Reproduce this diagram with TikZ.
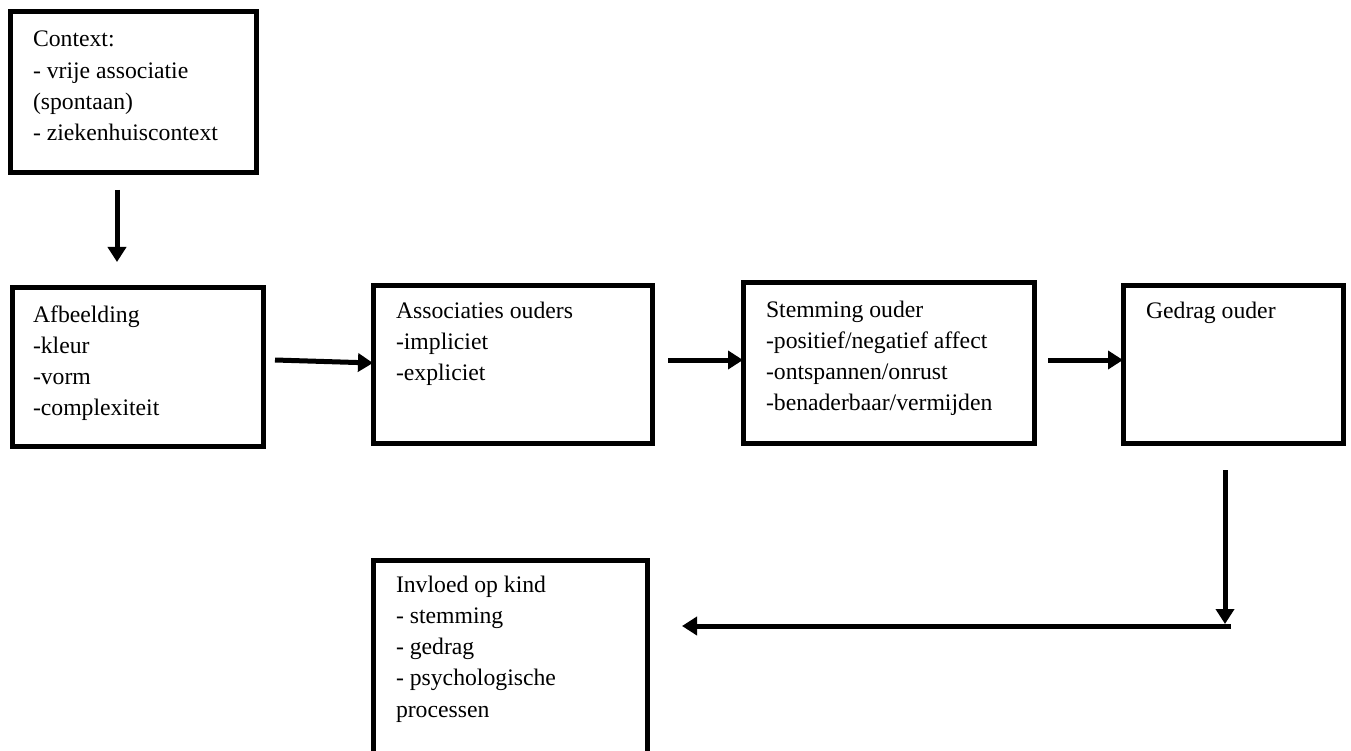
\documentclass[tikz,border=0pt]{standalone}
\usepackage{fontspec}
\setmainfont{Liberation Serif}
\usetikzlibrary{arrows.meta,calc}
\tikzset{
  boxnode/.style={draw=black, line width=5pt, inner sep=0pt, outer sep=0pt, anchor=north west, fill=none},
  txt/.style={anchor=base west, inner sep=0pt, outer sep=0pt, align=left, font=\fontsize{23.7}{31.3}\selectfont},
  arr/.style={line width=5pt, -{Triangle[length=15pt,width=18pt]}}
}
\begin{document}
\begin{tikzpicture}[x=1pt,y=-1pt]
\useasboundingbox (0,0) rectangle (1351,751);
% boxes
\node[boxnode, minimum width=246pt, minimum height=161pt] (ctx) at (10,12) {};
\node[boxnode, minimum width=251pt, minimum height=159pt] (afb) at (12,287) {};
\node[boxnode, minimum width=279pt, minimum height=158pt] (ass) at (373,285) {};
\node[boxnode, minimum width=291pt, minimum height=161pt] (stem) at (743,282) {};
\node[boxnode, minimum width=220pt, minimum height=158pt] (ged) at (1123,285) {};
\node[boxnode, minimum width=274pt, minimum height=260pt] (inv) at (373,560) {};
% texts (anchored at the baseline of their last line)
\node[txt] (tctx) at (33,140.9) {Context:\\- vrije associatie\\(spontaan)\\- ziekenhuiscontext};
\node[txt] (tafb) at (33,415.9) {Afbeelding\\-kleur\\-vorm\\-complexiteit};
\node[txt] (tass) at (396,380.6) {Associaties ouders\\-impliciet\\-expliciet};
\node[txt] (tstem) at (766,410.9) {Stemming ouder\\-positief/negatief affect\\-ontspannen/onrust\\-benaderbaar/vermijden};
\node[txt] (tged) at (1146,318) {Gedrag ouder};
\node[txt] (tinv) at (396,717.2) {Invloed op kind\\- stemming\\- gedrag\\- psychologische\\processen};
% connectors
\coordinate (c1) at (117,190);
\coordinate (c1e) at (117,262);
\draw[arr] (c1) -- (c1e);
\coordinate (c2) at (275,360);
\draw[arr] (c2) -- ($(ass.west)+(0,-1)$);
\coordinate (c3) at (668,360);
\draw[arr] (c3) -- (c3 -| stem.west);
\coordinate (c4) at (1048,360);
\draw[arr] (c4) -- (c4 -| ged.west);
\coordinate (c5) at (1225,470);
\coordinate (c5e) at (1225,624);
\draw[arr] (c5) -- (c5e);
\coordinate (c6) at (1231,626);
\coordinate (c6e) at (682,626);
\draw[arr] (c6) -- (c6e);
\end{tikzpicture}
\end{document}
